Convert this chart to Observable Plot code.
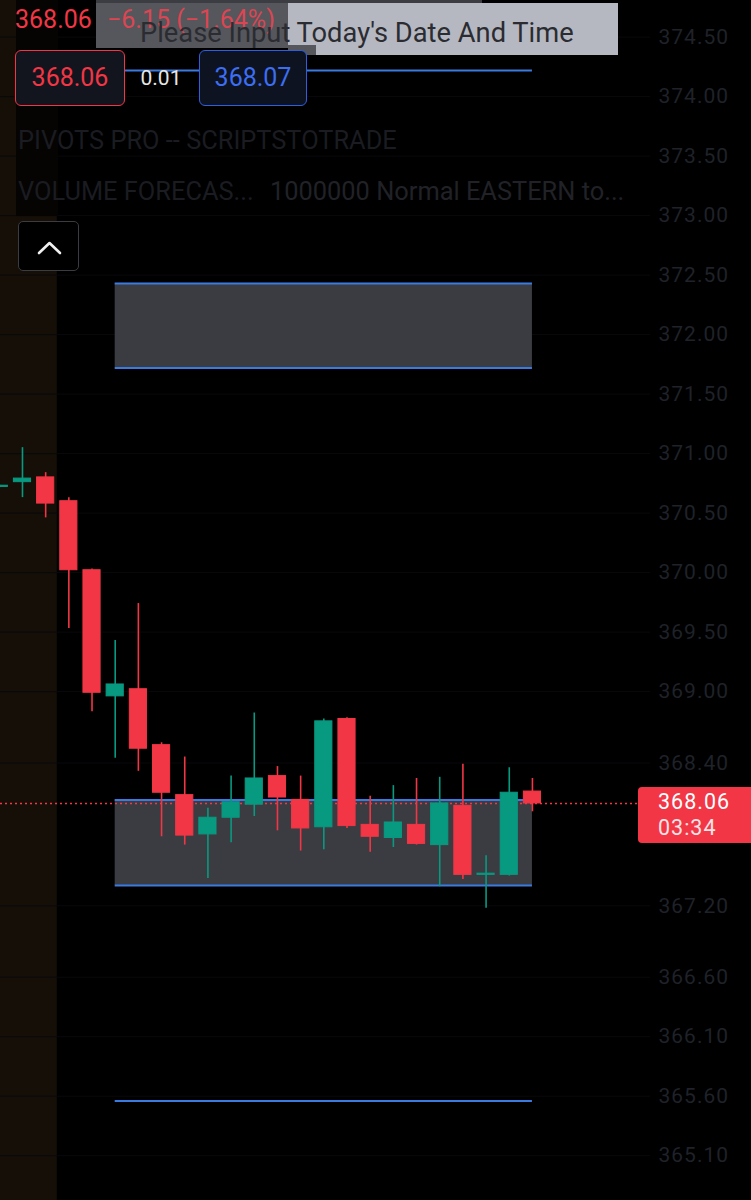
<!DOCTYPE html>
<html><head><meta charset="utf-8">
<script src="https://cdn.jsdelivr.net/npm/d3@7"></script>
<script src="https://cdn.jsdelivr.net/npm/@observablehq/plot@0.6"></script>
<style>
html,body{margin:0;padding:0;background:#000;}
#wrap{position:relative;width:751px;height:1200px;overflow:hidden;font-family:Roboto,"Noto Sans",sans-serif;background:#000;}
.ov{position:absolute;white-space:nowrap;box-sizing:border-box;}
svg [aria-label="y-axis tick label"] text{letter-spacing:1px;}
</style></head><body><div id="wrap"></div>
<script>
// ---- data ----
const candleIndex = [0,1,2,3,4,5,6,7,8,9,10,11,12,13,14,15,16,17,18,19,20,21,22,23];
const opens  = [370.72,370.76,370.80,370.60,370.02,368.96,369.02,368.55,368.13,367.80,367.94,368.05,368.29,368.09,367.86,368.77,367.88,367.77,367.88,367.71,368.04,367.46,367.46,368.16];
const highs  = [370.74,371.05,370.84,370.63,370.03,369.43,369.74,368.57,368.45,368.02,368.29,368.82,368.37,368.29,368.77,368.78,368.12,368.21,368.27,368.28,368.39,367.62,368.36,368.27];
const lows   = [370.71,370.63,370.46,369.53,368.83,368.44,368.33,367.78,367.71,367.43,367.73,367.95,367.83,367.66,367.67,367.85,367.65,367.69,367.71,367.36,367.42,367.18,367.45,367.99];
const closes = [370.73,370.79,370.58,370.02,368.99,369.06,368.52,368.15,367.79,367.94,368.07,368.27,368.11,367.85,368.75,367.87,367.78,367.90,367.72,368.06,367.46,367.47,368.15,368.06];
const pivotLevels = [374.22, 372.43, 371.72, 368.09, 367.37, 365.56];
const pivotZoneTops = [372.43, 368.09];
const pivotZoneBottoms = [371.72, 367.37];
const pivotFrom = 5, pivotTo = 23;
const sessionFrom = -1, sessionTo = 2.5;
const yTicks = [374.5,374.0,373.5,373.0,372.5,372.0,371.5,371.0,370.5,370.0,369.5,369.0,368.4,367.2,366.6,366.1,365.6,365.1];
const lastPrice = 368.06;
const countdown = "03:34";

const UP = "#089981", DOWN = "#f23645";
const candles = candleIndex.map(i => ({i, o: opens[i], h: highs[i], l: lows[i], c: closes[i]}));
const zones = pivotZoneTops.map((t, k) => ({t, b: pivotZoneBottoms[k]}));
const col = d => d.c >= d.o ? UP : DOWN;

const step = 23.18, x0 = -1.2;
const chart = Plot.plot({
  width: 751, height: 1200,
  marginLeft: 0, marginRight: 101, marginTop: 0, marginBottom: 0,
  style: {background: "#000", fontFamily: "Roboto, sans-serif", overflow: "visible"},
  x: {type: "linear", domain: [0, 32], range: [x0, x0 + step * 32], axis: null},
  y: {domain: [365.1, 374.5], range: [1155.2, 36.6]},
  color: {type: "identity"},
  marks: [
    Plot.rect([{a: sessionFrom, b: sessionTo}], {x1: "a", x2: "b", fill: "#160f08"}),
    Plot.ruleY(yTicks, {stroke: "#09090c", strokeWidth: 1}),
    Plot.rect(zones, {x1: pivotFrom, x2: pivotTo, y1: "b", y2: "t", fill: "#3b3c41"}),
    Plot.ruleY(pivotLevels, {x1: pivotFrom, x2: pivotTo, stroke: "#3a7be2", strokeWidth: 2}),
    Plot.ruleY([lastPrice], {stroke: DOWN, strokeWidth: 1.5, strokeDasharray: "2,3"}),
    Plot.ruleX(candles, {x: "i", y1: "l", y2: "h", stroke: col, strokeWidth: 1.6}),
    Plot.rect(candles, {x1: d => d.i - 0.37, x2: d => d.i + 0.37, y1: d => Math.min(d.o, d.c), y2: d => Math.max(d.o, d.c), fill: col, stroke: col, strokeWidth: 1}),
    Plot.axisY({anchor: "right", ticks: yTicks, tickFormat: d3.format(".2f"), tickSize: 0, tickPadding: 8, fontSize: 21, color: "#1f2229"})
  ]
});

const wrap = document.getElementById("wrap");
wrap.appendChild(chart);

function ov(html, css) {
  const d = document.createElement("div");
  d.className = "ov";
  d.innerHTML = html;
  Object.assign(d.style, css);
  wrap.appendChild(d);
  return d;
}
// legend panel (darkens the session shading behind the legend)
ov("", {left: "16px", top: "0px", width: "42px", height: "216px", background: "#050403"});
// header
ov("368.06", {left: "15px", top: "5px", fontSize: "25px", lineHeight: "30px", color: DOWN});
ov("", {left: "96px", top: "0px", width: "386px", height: "3px", background: "#3c3d42"});
ov("", {left: "96px", top: "3px", width: "192px", height: "45px", background: "#56575c"});
ov("\u22126.15 (\u22121.64%)", {left: "107px", top: "5px", fontSize: "25px", lineHeight: "30px", color: "#dc4552"});
ov("", {left: "288px", top: "3px", width: "330px", height: "52px", background: "#b6b8c1"});
ov("", {left: "288px", top: "45px", width: "28px", height: "10px", background: "#56575c"});
ov("Please Input Today's Date And Time", {left: "140px", top: "17px", fontSize: "27.3px", lineHeight: "32px", color: "#2b2c31"});
// price boxes
ov("368.06", {left: "15px", top: "50px", width: "110px", height: "56px", border: "1.5px solid " + DOWN, borderRadius: "6px", background: "#12151d", color: DOWN, fontSize: "25px", lineHeight: "53px", textAlign: "center"});
ov("0.01", {left: "140px", top: "64px", width: "42px", fontSize: "21px", lineHeight: "28px", color: "#e6e6e6", textAlign: "center"});
ov("368.07", {left: "199px", top: "50px", width: "108px", height: "56px", border: "1.5px solid #2f5fe0", borderRadius: "6px", background: "#0e1322", color: "#3c6ef2", fontSize: "25px", lineHeight: "53px", textAlign: "center"});
// indicator legends
ov("PIVOTS PRO -- SCRIPTSTOTRADE", {left: "18px", top: "125px", fontSize: "25.4px", lineHeight: "30px", color: "#1a1c21"});
ov("VOLUME FORECAS...", {left: "18px", top: "176px", fontSize: "25.4px", lineHeight: "30px", color: "#1a1c21"});
ov("1000000 Normal EASTERN to...", {left: "270px", top: "176px", fontSize: "25.4px", lineHeight: "30px", color: "#202227"});
// collapse button
ov('<svg width="61" height="50"><polyline points="20,31 30.5,21 41,31" fill="none" stroke="#f0f0f0" stroke-width="2.6" stroke-linecap="round" stroke-linejoin="round"/></svg>',
   {left: "18px", top: "221px", width: "61px", height: "50px", border: "1px solid #3a3c42", borderRadius: "5px", background: "#000", lineHeight: "0"});
// last price label on the axis
const yPx = chart.scale("y").apply(lastPrice);
ov('<div style="font-size:21.5px;line-height:26px;color:#fff;letter-spacing:1px">' + d3.format(".2f")(lastPrice) + '</div><div style="font-size:21.5px;line-height:26px;color:#fde3e6;letter-spacing:1px">' + countdown + '</div>',
   {left: "638px", top: (yPx - 16) + "px", width: "113px", height: "56px", background: DOWN, borderRadius: "4px 0 0 4px", paddingLeft: "20px", paddingTop: "2px"});
</script></body></html>
